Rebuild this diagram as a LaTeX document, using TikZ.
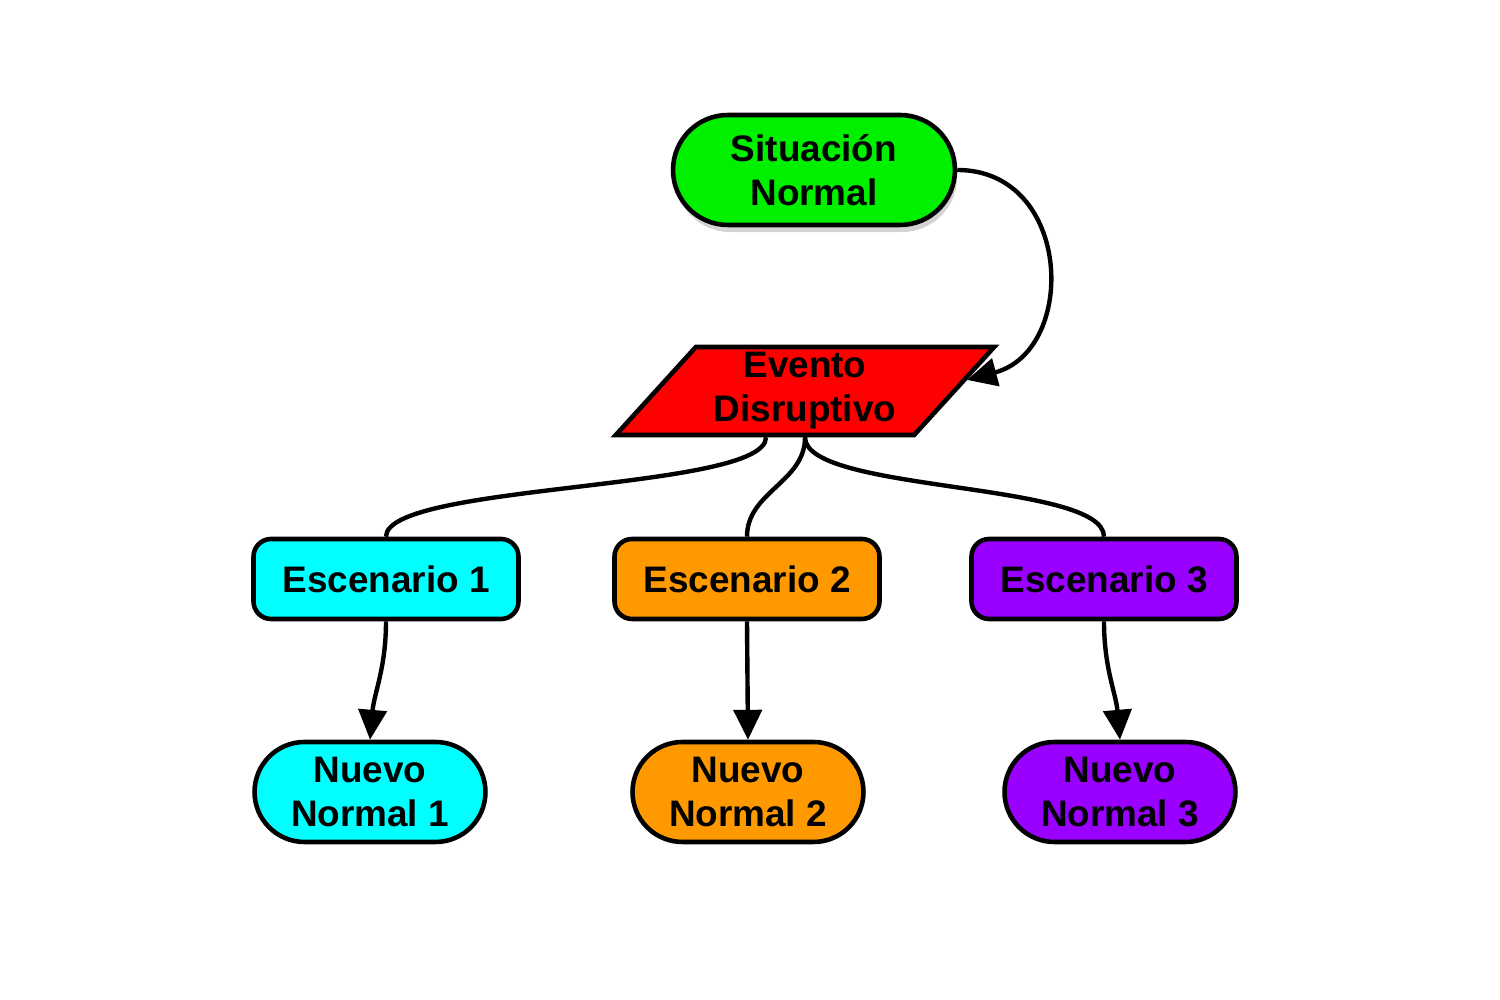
\documentclass[tikz,border=0pt]{standalone}
\usepackage{fontspec}
\setmainfont{Liberation Sans}
\usetikzlibrary{shapes.geometric,shapes.misc,arrows.meta,shadows}
\definecolor{verde}{HTML}{00F000}
\definecolor{rojo}{HTML}{FF0000}
\definecolor{cian}{HTML}{00FFFF}
\definecolor{naranja}{HTML}{FF9900}
\definecolor{morado}{HTML}{9900FF}
\begin{document}
\begin{tikzpicture}[
  every node/.style={font=\fontsize{10.5}{12.5}\selectfont\bfseries,align=center},
  pill/.style={draw,line width=1.3pt,rounded rectangle,minimum height=1.0cm,minimum width=2.45cm,inner sep=2pt},
  caja/.style={draw,line width=1.3pt,rounded corners=5pt,minimum width=2.65cm,minimum height=0.8cm},
  enlace/.style={line width=1.25pt},
  flecha/.style={line width=1.25pt,-{Triangle[length=8.5pt,width=8pt]}}]
\useasboundingbox (0,0) rectangle (15,-10);
% Situacion normal
\node[pill,fill=verde,minimum width=2.96cm,minimum height=1.1cm,
  drop shadow={shadow xshift=0.6pt,shadow yshift=-2pt,opacity=0.35}] (sit) at (8.14,-1.70) {Situación\\Normal};
% Evento disruptivo
\node[draw,line width=1.3pt,fill=rojo,trapezium,trapezium left angle=49,trapezium right angle=131,
  trapezium stretches=true,minimum width=3.79cm,minimum height=0.88cm,inner sep=0pt] (ev) at (8.05,-3.91) {Evento\\Disruptivo};
% Escenarios
\node[caja,fill=cian] (esc1) at (3.86,-5.79) {Escenario 1};
\node[caja,fill=naranja] (esc2) at (7.47,-5.79) {Escenario 2};
\node[caja,fill=morado] (esc3) at (11.04,-5.79) {Escenario 3};
% Nuevos normales
\node[pill,fill=cian] (nn1) at (3.70,-7.92) {Nuevo\\Normal 1};
\node[pill,fill=naranja] (nn2) at (7.48,-7.92) {Nuevo\\Normal 2};
\node[pill,fill=morado] (nn3) at (11.20,-7.92) {Nuevo\\Normal 3};
% Conectores
\coordinate (evin) at (9.67,-3.80);
\draw[flecha] (sit.east) to[out=0,in=15,looseness=1.4] (evin);
\draw[enlace] ([xshift=-0.39cm]ev.south) to[out=-90,in=90,looseness=0.35] (esc1.north);
\draw[enlace] (ev.south) to[out=-90,in=90] (esc2.north);
\draw[enlace] (ev.south) to[out=-90,in=90,looseness=0.45] (esc3.north);
\draw[flecha] (esc1.south) to[out=-90,in=85] (nn1.north);
\draw[flecha] (esc2.south) -- (nn2.north);
\draw[flecha] (esc3.south) to[out=-90,in=95] (nn3.north);
\end{tikzpicture}
\end{document}
